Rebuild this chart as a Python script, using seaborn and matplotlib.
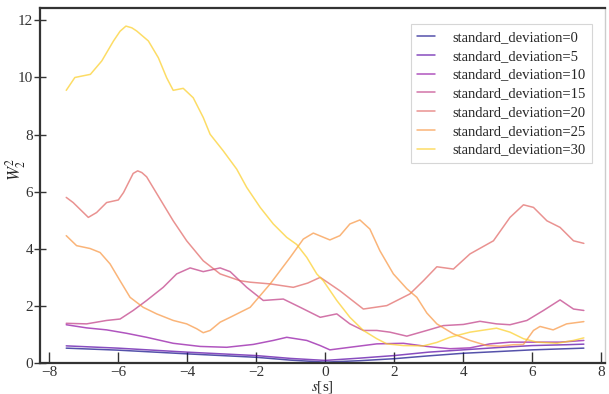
import numpy as np
import pandas as pd
import matplotlib
matplotlib.use('Agg')
import matplotlib.pyplot as plt
import seaborn as sns

# Données (s en secondes, W2^2)
x_sd0 = [-7.5, -6, -4, -2, -1, 0, 1, 2, 3, 4, 5, 6, 7, 7.5]
y_sd0 = [0.52, 0.45, 0.32, 0.2, 0.1, 0.03, 0.08, 0.15, 0.25, 0.34, 0.4, 0.46, 0.5, 0.52]

x_sd5 = [-7.5, -6, -4, -2, -1, 0, 1, 2, 3, 4, 5, 6, 7, 7.5]
y_sd5 = [0.6, 0.52, 0.38, 0.26, 0.16, 0.09, 0.17, 0.26, 0.38, 0.46, 0.54, 0.61, 0.64, 0.66]

x_sd10 = [-7.5, -6.91, -6.33, -5.75, -5.17, -4.4, -3.62, -2.85, -2.08, -1.5, -1.11, -0.53,
          -0.14, 0.14, 0.72, 1.5, 2.27, 2.95, 3.62, 4.2, 4.78, 5.36, 6.14, 6.81, 7.5]
y_sd10 = [1.34, 1.23, 1.16, 1.04, 0.9, 0.69, 0.58, 0.55, 0.65, 0.79, 0.9, 0.79,
          0.61, 0.46, 0.55, 0.67, 0.69, 0.58, 0.5, 0.53, 0.67, 0.73, 0.73, 0.73, 0.79]

x_sd15 = [-7.5, -6.91, -6.33, -5.94, -5.56, -5.17, -4.69, -4.3, -3.91, -3.53, -3.04, -2.75,
          -2.27, -1.79, -1.21, -0.72, -0.14, 0.34, 0.72, 1.11, 1.5, 1.88, 2.37, 2.95, 3.43,
          4.01, 4.49, 4.97, 5.36, 5.85, 6.33, 6.81, 7.2, 7.5]
y_sd15 = [1.39, 1.37, 1.49, 1.54, 1.84, 2.19, 2.65, 3.12, 3.33, 3.2, 3.33, 3.2,
          2.65, 2.19, 2.24, 1.95, 1.6, 1.72, 1.37, 1.14, 1.14, 1.08, 0.94, 1.14, 1.31,
          1.35, 1.46, 1.37, 1.34, 1.49, 1.84, 2.21, 1.89, 1.84]

x_sd20 = [-7.5, -7.3, -6.86, -6.62, -6.33, -5.99, -5.84, -5.56, -5.43, -5.31, -5.17, -4.78,
          -4.4, -4.01, -3.53, -3.04, -2.46, -2.17, -1.59, -0.92, -0.5, -0.14, 0.43, 1.11,
          1.79, 2.46, 2.85, 3.24, 3.72, 4.2, 4.88, 5.36, 5.75, 6.04, 6.43, 6.81, 7.2, 7.5]
y_sd20 = [5.8, 5.62, 5.1, 5.27, 5.62, 5.71, 5.97, 6.64, 6.73, 6.67, 6.52, 5.74,
          4.98, 4.28, 3.58, 3.12, 2.88, 2.83, 2.77, 2.65, 2.8, 3.0, 2.53, 1.89,
          2.01, 2.42, 2.88, 3.37, 3.29, 3.82, 4.28, 5.1, 5.54, 5.45, 4.98, 4.75, 4.28, 4.19]

x_sd25 = [-7.5, -7.2, -6.81, -6.52, -6.23, -5.94, -5.65, -5.27, -4.88, -4.4, -4.01, -3.72,
          -3.53, -3.33, -3.04, -2.75, -2.17, -1.59, -1.01, -0.63, -0.34, 0.14, 0.43, 0.72,
          1.01, 1.3, 1.59, 1.98, 2.37, 2.66, 2.95, 3.24, 3.72, 4.2, 4.69, 5.07, 5.46, 5.75,
          6.04, 6.23, 6.61, 7.0, 7.5]
y_sd25 = [4.46, 4.11, 4.01, 3.87, 3.47, 2.88, 2.3, 1.95, 1.72, 1.49, 1.37, 1.2,
          1.06, 1.14, 1.43, 1.6, 1.95, 2.77, 3.7, 4.34, 4.55, 4.31, 4.46, 4.87,
          5.01, 4.69, 3.93, 3.12, 2.6, 2.3, 1.75, 1.37, 1.02, 0.79, 0.61, 0.59, 0.64, 0.65,
          1.14, 1.28, 1.16, 1.37, 1.45]

x_sd30 = [-7.5, -7.25, -6.8, -6.47, -6.13, -5.94, -5.77, -5.6, -5.46, -5.12, -4.83, -4.59,
          -4.4, -4.11, -3.82, -3.53, -3.33, -2.95, -2.56, -2.27, -1.88, -1.5, -1.11, -0.82,
          -0.53, -0.24, -0.05, 0.34, 0.72, 1.11, 1.5, 1.79, 2.27, 2.85, 3.24, 3.62, 4.2,
          4.97, 5.36, 5.75, 6.14, 6.72, 7.2, 7.5]
y_sd30 = [9.55, 10.0, 10.11, 10.58, 11.28, 11.62, 11.8, 11.74, 11.63, 11.28, 10.69, 9.99,
          9.55, 9.62, 9.29, 8.6, 8.01, 7.43, 6.79, 6.15, 5.45, 4.87, 4.4, 4.15,
          3.7, 3.12, 2.88, 2.19, 1.6, 1.14, 0.85, 0.67, 0.61, 0.6, 0.72, 0.9, 1.08,
          1.22, 1.08, 0.85, 0.73, 0.69, 0.79, 0.88]

std_devs = [0, 5, 10, 15, 20, 25, 30]
series = [(x_sd0, y_sd0), (x_sd5, y_sd5), (x_sd10, y_sd10), (x_sd15, y_sd15),
          (x_sd20, y_sd20), (x_sd25, y_sd25), (x_sd30, y_sd30)]

frames = []
for sd, (xs, ys) in zip(std_devs, series):
    frames.append(pd.DataFrame({'s': xs, 'W': ys, 'label': f'standard_deviation={sd}'}))
df = pd.concat(frames, ignore_index=True)

sns.set_style('ticks')
plt.rcParams['font.family'] = ['Liberation Serif', 'DejaVu Serif']
plt.rcParams['mathtext.fontset'] = 'stix'

fig = plt.figure(figsize=(6.09, 3.94), dpi=100)
ax = fig.add_axes([0.0657, 0.0787, 0.927, 0.9])

cmap = sns.color_palette('plasma', as_cmap=True)
palette = [cmap(v) for v in np.linspace(0.0, 0.9, len(std_devs))]
sns.lineplot(data=df, x='s', y='W', hue='label', palette=palette, estimator=None,
             sort=True, linewidth=1.1, alpha=0.7, ax=ax)

ax.set_xlim(-8.26, 8.1)
ax.set_ylim(0, 12.42)
ax.set_xticks([-8, -6, -4, -2, 0, 2, 4, 6, 8])
ax.set_yticks([0, 2, 4, 6, 8, 10, 12])
ax.tick_params(axis='x', direction='in', length=8, width=1, colors='#333333',
               labelsize=11, pad=2)
ax.tick_params(axis='y', direction='inout', length=8, width=1, colors='#333333',
               labelsize=11, pad=1)
ax.set_xlabel('$s$[s]', fontsize=11)
ax.set_ylabel('$W_2^2$', fontsize=12)
ax.xaxis.set_label_coords(0.5, -0.044)
ax.yaxis.set_label_coords(-0.022, 0.545)

for side in ['left', 'bottom', 'top']:
    ax.spines[side].set_color('#333333')
    ax.spines[side].set_linewidth(1.6)
ax.spines['right'].set_color('#cccccc')
ax.spines['right'].set_linewidth(1.0)

leg = ax.legend(loc='upper right', bbox_to_anchor=(0.978, 0.955), fontsize=10.5,
                frameon=True, fancybox=False, handlelength=1.2, handletextpad=1.2,
                labelspacing=0.38, borderpad=0.45, borderaxespad=0)
leg.get_frame().set_edgecolor('#cccccc')
leg.get_frame().set_linewidth(0.8)

plt.savefig('out.png', dpi=100)
